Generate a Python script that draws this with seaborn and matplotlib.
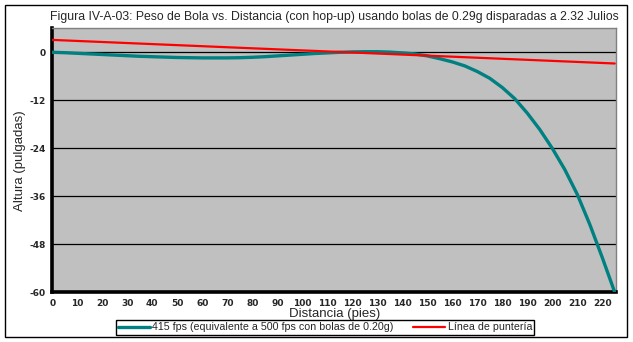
import matplotlib
matplotlib.use("Agg")
import matplotlib.pyplot as plt
import seaborn as sns
import pandas as pd
from matplotlib.patches import Rectangle

# Trajectory with hop-up (inches of height vs. feet of distance)
distance_ft = [0, 5, 10, 15, 20, 25, 30, 35, 40, 45, 50, 55, 60, 65, 70, 75, 80,
               85, 90, 95, 100, 105, 110, 115, 120, 125, 130, 135, 140, 145, 150,
               155, 160, 165, 170, 175, 180, 185, 190, 195, 200, 205, 210, 215,
               220, 225]
height_in = [0.0, -0.1, -0.25, -0.4, -0.55, -0.7, -0.85, -1.0, -1.1, -1.2, -1.3,
             -1.35, -1.4, -1.4, -1.4, -1.35, -1.25, -1.1, -0.9, -0.7, -0.5, -0.3,
             -0.15, 0.0, 0.1, 0.15, 0.15, 0.05, -0.15, -0.4, -0.9, -1.6, -2.4,
             -3.4, -4.8, -6.5, -8.8, -11.6, -15.2, -19.3, -24.0, -29.3, -35.5,
             -43.0, -51.3, -60.0]

# Line of sight
aim_ft = [0, 225]
aim_in = [3.1, -2.8]

series_names = ["415 fps (equivalente a 500 fps con bolas de 0.20g)",
                "Línea de puntería"]
x_ticks = list(range(0, 230, 10))
y_ticks = [-60, -48, -36, -24, -12, 0]

traj = pd.DataFrame({"x": distance_ft, "y": height_in, "serie": series_names[0]})
aim = pd.DataFrame({"x": aim_ft, "y": aim_in, "serie": series_names[1]})

sns.set_style("white")
plt.rcParams["font.family"] = ["Liberation Sans", "DejaVu Sans"]

fig = plt.figure(figsize=(6.33, 3.42), dpi=100)
ax = fig.add_axes([52.3 / 633, 1 - 292.3 / 342, (616 - 52.3) / 633, (292.3 - 28.3) / 342])
ax.set_facecolor("#C0C0C0")

sns.lineplot(data=traj, x="x", y="y", ax=ax, color="#008080", linewidth=2.4,
             label=series_names[0], zorder=3)
sns.lineplot(data=aim, x="x", y="y", ax=ax, color="#FF0000", linewidth=1.6,
             label=series_names[1], zorder=4)

ax.set_xlim(0, 225.5)
ax.set_ylim(-60, 6)
ax.set_xticks(x_ticks)
ax.set_xticks(list(range(5, 230, 10)), minor=True)
ax.set_yticks(y_ticks)
ax.set_xticklabels([str(t) for t in x_ticks], fontsize=6.5, fontweight="bold",
                   family="DejaVu Sans")
ax.set_yticklabels([str(t) for t in y_ticks], fontsize=6.5, fontweight="bold",
                   family="DejaVu Sans")
ax.tick_params(axis="both", which="both", direction="out", length=3, width=1,
               color="black", pad=1.5)
ax.grid(axis="y", color="black", linewidth=0.9, zorder=1)
ax.set_axisbelow(True)

for side in ("left", "bottom"):
    ax.spines[side].set_color("black")
    ax.spines[side].set_linewidth(2.6)
for side in ("top", "right"):
    ax.spines[side].set_color("#808080")
    ax.spines[side].set_linewidth(1.0)

ax.set_xlabel("Distancia (pies)", fontsize=9.5, labelpad=0)
ax.set_ylabel("Altura (pulgadas)", fontsize=9.5, labelpad=3)
ax.set_title("Figura IV-A-03: Peso de Bola vs. Distancia (con hop-up) usando bolas "
             "de 0.29g disparadas a 2.32 Julios", fontsize=8.8, pad=6, loc="center")

ax.get_legend().remove()
handles, labels = ax.get_legend_handles_labels()
leg = fig.legend(handles, labels, loc="center", bbox_to_anchor=(325 / 633, 1 - 327.5 / 342),
                 ncol=2, fontsize=7.7, frameon=True, fancybox=False, edgecolor="black",
                 handlelength=3.0, handletextpad=0.25, columnspacing=1.8,
                 borderpad=0.2, borderaxespad=0, framealpha=1)
leg.get_frame().set_linewidth(1.0)

# Outer chart border
fig.patches.append(Rectangle((5 / 633, 1 - 337 / 342), 622 / 633, 332 / 342,
                             transform=fig.transFigure, fill=False,
                             edgecolor="black", linewidth=1.0))

fig.savefig("out.png", dpi=100)
